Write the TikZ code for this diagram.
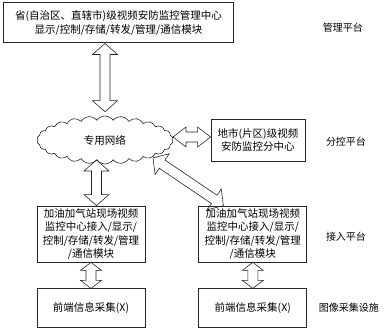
\documentclass[tikz,border=0pt]{standalone}
\usepackage{fontspec}
\setmainfont{Noto Sans CJK SC}
\usepackage{tikz}
\usetikzlibrary{positioning,calc,shapes.symbols}
\newcommand\fatlen{11pt}
\newcommand\fathalf{12.5pt}
\newcommand\fatshaft{5pt}

\begin{document}
\begin{tikzpicture}[
  x=1pt, y=-1pt,
  every node/.style={font=\fontsize{10.5}{13.5}\selectfont, align=center},
  box/.style={draw=black!85, line width=0.8pt, inner sep=2pt},
  net/.style={draw=black!85, line width=0.6pt, cloud, cloud puffs=26, cloud puff arc=110,
              aspect=2.8, inner sep=0pt},
  lbl/.style={font=\fontsize{10}{12}\selectfont},
  small fat/.code={\def\fathalf{10pt}\def\fatlen{13pt}},
  short fat/.code={\def\fathalf{10.5pt}\def\fatlen{8pt}},
  fat/.style={draw=black!85, line width=0.6pt, line join=miter, to path={
    (\tikztostart)
    -- ($(\tikztostart)!\fatlen!(\tikztotarget)!\fathalf!90:(\tikztotarget)$)
    -- ($(\tikztostart)!\fatlen!(\tikztotarget)!\fatshaft!90:(\tikztotarget)$)
    -- ($(\tikztotarget)!\fatlen!(\tikztostart)!\fatshaft!-90:(\tikztostart)$)
    -- ($(\tikztotarget)!\fatlen!(\tikztostart)!\fathalf!-90:(\tikztostart)$)
    -- (\tikztotarget)
    -- ($(\tikztotarget)!\fatlen!(\tikztostart)!\fathalf!90:(\tikztostart)$)
    -- ($(\tikztotarget)!\fatlen!(\tikztostart)!\fatshaft!90:(\tikztostart)$)
    -- ($(\tikztostart)!\fatlen!(\tikztotarget)!\fatshaft!-90:(\tikztotarget)$)
    -- ($(\tikztostart)!\fatlen!(\tikztotarget)!\fathalf!-90:(\tikztotarget)$)
    -- cycle}},
]
  \useasboundingbox (0,0) rectangle (384,331);

  % platforms
  \node[box, line width=1pt, minimum width=229pt, minimum height=40pt] (prov) at (118.5,23)
    {省(自治区、直辖市)级视频安防监控管理中心\\显示/控制/存储/转发/管理/通信模块};
  \node[net, minimum width=136pt, minimum height=48pt] (net) at (105,140) {专用网络};
  \node[box, minimum width=94pt, minimum height=42pt] (sub) at (258,140)
    {地市(片区)级视频\\安防监控分中心};
  \node[box, minimum width=108pt, minimum height=56pt] (accL) at (91,234)
    {加油加气站现场视频\\监控中心接入/显示/\\控制/存储/转发/管理\\/通信模块};
  \node[box, minimum width=108pt, minimum height=56pt, right=53pt of accL] (accR)
    {加油加气站现场视频\\监控中心接入/显示/\\控制/存储/转发/管理\\/通信模块};
  \node[box, minimum width=108pt, minimum height=39pt, below=26pt of accL] (feL) {前端信息采集(X)};
  \node[box, minimum width=108pt, minimum height=39pt, below=26pt of accR] (feR) {前端信息采集(X)};

  % levels
  \node[lbl] (lv1) at (343,28) {管理平台};
  \node[lbl] (lv2) at (346,142) {分控平台};
  \node[lbl] (lv3) at (346,237) {接入平台};
  \node[lbl] (lv4) at (349,308) {图像采集设施};

  \coordinate (t1) at (prov.south -| net.north);
  \coordinate (t2) at ($(net.north)+(0,-4)$);
  \coordinate (c1) at (96.5,160);
  \coordinate (c2) at (c1 |- accL.north);
  \coordinate (d1) at (153,158);
  \coordinate (d2) at ([xshift=25pt]accR.north west);
  \coordinate (h1) at (173,137);
  \coordinate (h2) at (h1 -| sub.west);
  \coordinate (l1) at (accL.south);
  \coordinate (l2) at (feL.north);
  \coordinate (r1) at (accR.south);
  \coordinate (r2) at (feR.north);

  \draw[fat] (t1) to (t2);
  \draw[fat] (c1) to (c2);
  \draw[fat] (d1) to (d2);
  \draw[fat, small fat] (h1) to (h2);
  \draw[fat, short fat] (l1) to (l2);
  \draw[fat, short fat] (r1) to (r2);
\end{tikzpicture}
\end{document}
